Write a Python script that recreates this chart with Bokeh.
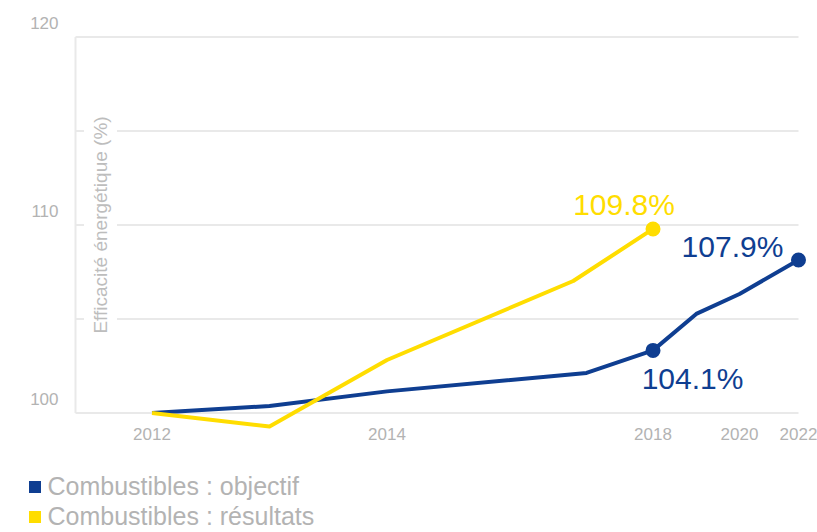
import numpy as np
from bokeh.plotting import figure
from bokeh.models import ColumnDataSource, FixedTicker, Legend, LegendItem, Label, Range1d
from bokeh.core.properties import value
from bokeh.embed import file_html
from bokeh.resources import INLINE

# ---------------- data ----------------
blue_years = [2012, 2013, 2014, 2017, 2018, 2019, 2020, 2022]
blue_values = [100.0, 100.37, 101.15, 102.13, 103.33, 105.27, 106.33, 108.14]
yellow_years = [2012, 2013, 2014, 2016.8, 2018]
yellow_values = [100.0, 99.28, 102.82, 107.02, 109.79]

blue_marked_years = [2018, 2022]
blue_marked_texts = ["104.1%", "107.9%"]
yellow_marked_years = [2018]
yellow_marked_texts = ["109.8%"]

x_tick_years = [2012, 2014, 2018, 2020, 2022]
# the original x axis is not linear in years: axis position of each labelled year
x_tick_pos = [0.0, 2.0, 4.264, 5.0, 5.502]
y_grid_values = [100, 105, 110, 115, 120]
y_label_values = [100, 110, 120]

series_names = ["Combustibles : objectif", "Combustibles : résultats"]
y_title = "Efficacité énergétique (%)"

# ---------------- styles ----------------
BLUE = "#0f3e91"
YELLOW = "#ffdd00"
GRAY_TEXT = "#b3b3b3"
GRID = "#e9e9e9"
FONT = "Liberation Sans"


def xpos(years):
    return np.interp(years, x_tick_years, x_tick_pos)


# the frame covers the whole canvas; the x axis is drawn at a fixed location inside it
p = figure(width=817, height=532, output_backend="svg", toolbar_location=None,
           x_range=Range1d(-1.2894, 5.6638), y_range=Range1d(93.644, 121.94),
           min_border_left=0, min_border_right=0, min_border_top=0, min_border_bottom=0)
p.outline_line_color = None
p.background_fill_color = "white"
p.border_fill_color = "white"
p.xgrid.visible = False
p.ygrid.visible = False

x_axis_at = 99.176       # y position where the x axis is drawn
grid_left = -0.651       # left end of the plot area (gridlines start here)
grid_right = x_tick_pos[-1]
y_label_right = -0.7957  # right edge of the y tick labels

# gridlines limited to the plot area
n = len(y_grid_values)
p.segment(x0=[grid_left] * n, x1=[grid_right] * n, y0=y_grid_values, y1=y_grid_values,
          line_color=GRID, line_width=2, level="underlay")
p.segment(x0=[grid_left], x1=[grid_left], y0=[y_grid_values[0]], y1=[y_grid_values[-1]],
          line_color=GRID, line_width=2, level="underlay")

# x axis
xa = p.xaxis[0]
xa.fixed_location = x_axis_at
xa.ticker = FixedTicker(ticks=list(x_tick_pos))
xa.major_label_overrides = {pos: str(yr) for pos, yr in zip(x_tick_pos, x_tick_years)}
xa.axis_line_color = None
xa.major_tick_line_color = None
xa.minor_tick_line_color = None
xa.major_tick_out = 0
xa.major_label_standoff = 0
xa.major_label_text_color = GRAY_TEXT
xa.major_label_text_font = FONT
xa.major_label_text_font_size = "17px"

# y tick labels: they sit a little above their gridline, as in the original
p.yaxis.visible = False
ylab = ColumnDataSource(dict(x=[y_label_right] * len(y_label_values), y=y_label_values,
                             t=[str(v) for v in y_label_values]))
p.text("x", "y", text="t", source=ylab, y_offset=-13.5,
       text_align="right", text_baseline="middle", text_color=GRAY_TEXT,
       text_font=value(FONT), text_font_size="17px")

# lines
src_b = ColumnDataSource(dict(x=xpos(blue_years), y=blue_values))
src_y = ColumnDataSource(dict(x=xpos(yellow_years), y=yellow_values))
p.line("x", "y", source=src_b, line_color=BLUE, line_width=4, line_join="round")
p.line("x", "y", source=src_y, line_color=YELLOW, line_width=4, line_join="round")

# marked points
bm_y = [blue_values[blue_years.index(yr)] for yr in blue_marked_years]
ym_y = [yellow_values[yellow_years.index(yr)] for yr in yellow_marked_years]
p.scatter(xpos(blue_marked_years), bm_y, size=15, fill_color=BLUE, line_color=None)
p.scatter(xpos(yellow_marked_years), ym_y, size=15, fill_color=YELLOW, line_color=None)

# value labels
lab_b = ColumnDataSource(dict(x=xpos(blue_marked_years), y=bm_y, t=blue_marked_texts,
                              dx=[39.5, -66], dy=[28.5, -13]))
lab_y = ColumnDataSource(dict(x=xpos(yellow_marked_years), y=ym_y, t=yellow_marked_texts,
                              dx=[-29], dy=[-24]))
p.text("x", "y", text="t", source=lab_b, x_offset="dx", y_offset="dy",
       text_align="center", text_baseline="middle", text_color=BLUE,
       text_font=value(FONT), text_font_size="30px")
p.text("x", "y", text="t", source=lab_y, x_offset="dx", y_offset="dy",
       text_align="center", text_baseline="middle", text_color=YELLOW,
       text_font=value(FONT), text_font_size="30px")

# y title inside the plot
title = Label(x=-0.438, y=110, text=y_title, angle=np.pi / 2,
              text_align="center", text_baseline="middle", text_color="#bdbdbd",
              text_font=FONT, text_font_size="19px",
              background_fill_color="white", padding=6)
p.add_layout(title)

# legend with square swatches (swatch renderers carry no visible data)
sw_b = p.quad(left=[np.nan], right=[np.nan], top=[np.nan], bottom=[np.nan],
              fill_color=BLUE, line_color=None)
sw_y = p.quad(left=[np.nan], right=[np.nan], top=[np.nan], bottom=[np.nan],
              fill_color=YELLOW, line_color=None)
legend = Legend(items=[LegendItem(label=series_names[0], renderers=[sw_b]),
                       LegendItem(label=series_names[1], renderers=[sw_y])],
                location=(26.5, 1), orientation="vertical",
                glyph_width=15, glyph_height=15, label_height=26, spacing=1,
                padding=0, margin=0, label_standoff=6,
                label_text_font=FONT, label_text_font_size="25px",
                label_text_color=GRAY_TEXT,
                border_line_color=None, background_fill_alpha=0)
p.add_layout(legend)

open("out.html", "w").write(file_html(p, INLINE))
